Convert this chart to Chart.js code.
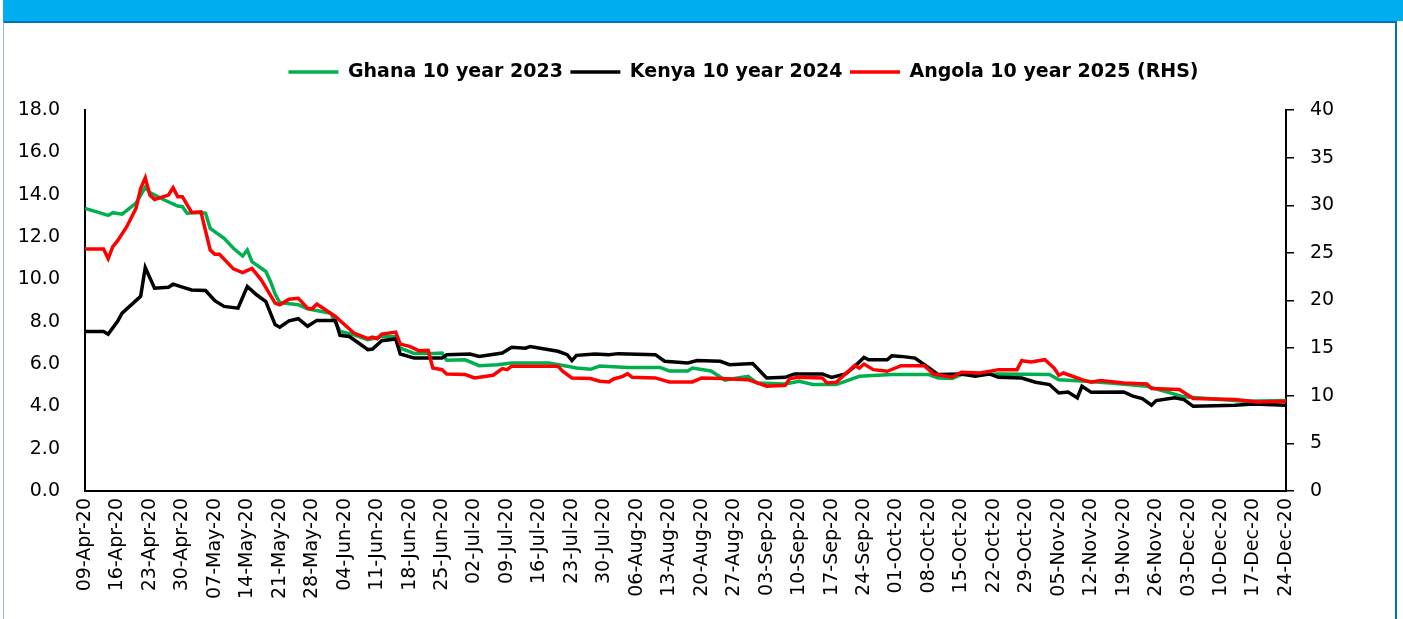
<!DOCTYPE html>
<html>
<head>
<meta charset="utf-8">
<title>Eurobond yields</title>
<script src="https://cdn.jsdelivr.net/npm/chart.js@4"></script>
<style>
  html, body { margin: 0; padding: 0; background: #fff; overflow: hidden; }
  #header { position: absolute; left: 3px; top: 0; width: 1400px; height: 21px; background: #00AEEF; }
  #frame { position: absolute; left: 3px; top: 21px; width: 1391px; height: 610px;
           border-top: 2px solid #0070C0; border-left: 1px solid #8FB8E0; border-right: 2px solid #0070C0; }
  #wrap { position: absolute; left: 4px; top: 23px; width: 1391px; height: 596px; }
</style>
</head>
<body>
<div id="header"></div>
<div id="frame"></div>
<div id="wrap"><canvas id="yieldChart"></canvas></div>
<script>
// weekly tick labels, one every 7 days starting 09-Apr-20
const dateLabels = ['09-Apr-20', '16-Apr-20', '23-Apr-20', '30-Apr-20', '07-May-20', '14-May-20',
    '21-May-20', '28-May-20', '04-Jun-20', '11-Jun-20', '18-Jun-20', '25-Jun-20', '02-Jul-20',
    '09-Jul-20', '16-Jul-20', '23-Jul-20', '30-Jul-20', '06-Aug-20', '13-Aug-20', '20-Aug-20',
    '27-Aug-20', '03-Sep-20', '10-Sep-20', '17-Sep-20', '24-Sep-20', '01-Oct-20', '08-Oct-20',
    '15-Oct-20', '22-Oct-20', '29-Oct-20', '05-Nov-20', '12-Nov-20', '19-Nov-20', '26-Nov-20',
    '03-Dec-20', '10-Dec-20', '17-Dec-20', '24-Dec-20'];

// days since 09-Apr-20 and yields (%)
const ghanaDays = [0, 2, 5, 6, 8, 11, 13, 14, 17, 20, 21, 22, 25, 26, 27, 30, 32, 34, 35, 36, 39, 40, 41, 42, 46,
    48, 53, 55, 58, 61, 64, 67, 68, 71, 75, 77, 78, 82, 85, 89, 92, 100, 104, 106, 109, 111, 117, 124, 126, 130,
    131, 135, 138, 143, 145, 151, 154, 157, 162, 167, 174, 182, 184, 187, 189, 197, 208, 210, 216, 221, 229, 237, 250, 259];
const ghana = [13.35, 13.22, 13.02, 13.15, 13.08, 13.6, 14.35, 14.1, 13.76, 13.46, 13.43, 13.12, 13.16, 13.12, 12.41,
    11.94, 11.47, 11.1, 11.39, 10.84, 10.37, 9.9, 9.3, 8.9, 8.8, 8.61, 8.4, 7.54, 7.38, 7.15, 7.3, 7.3, 6.75, 6.5, 6.5,
    6.52, 6.18, 6.2, 5.92, 5.97, 6.05, 6.05, 5.89, 5.81, 5.75, 5.9, 5.84, 5.84, 5.67, 5.67, 5.81, 5.67, 5.24, 5.42, 5.1,
    5.06, 5.18, 5.03, 5.03, 5.42, 5.5, 5.5, 5.34, 5.31, 5.5, 5.53, 5.5, 5.26, 5.18, 5.1, 4.95, 4.45, 4.24, 4.27];

const kenyaDays = [0, 4, 5, 7, 8, 12, 13, 15, 18, 19, 21, 23, 26, 28, 30, 33, 35, 37, 39, 41, 42, 44, 46, 48, 50,
    54, 55, 57, 59, 61, 62, 64, 67, 68, 71, 77, 78, 83, 85, 90, 92, 95, 96, 102, 104, 105, 106, 110, 113, 115,
    123, 125, 130, 132, 137, 139, 144, 147, 151, 153, 159, 161, 164, 166, 168, 169, 173, 174, 176, 179, 182, 184,
    189, 192, 195, 197, 202, 205, 208, 210, 212, 214, 215, 217, 224, 226, 228, 230, 231, 235, 237, 239, 248, 252, 259];
const kenya = [7.54, 7.54, 7.41, 8.0, 8.4, 9.2, 10.56, 9.58, 9.63, 9.77, 9.63, 9.5, 9.47, 8.99, 8.72, 8.64, 9.66,
    9.27, 8.95, 7.86, 7.74, 8.04, 8.14, 7.78, 8.06, 8.06, 7.35, 7.3, 6.99, 6.68, 6.71, 7.1, 7.18, 6.47, 6.28, 6.28,
    6.44, 6.47, 6.36, 6.52, 6.79, 6.75, 6.83, 6.6, 6.44, 6.16, 6.41, 6.47, 6.44, 6.49, 6.44, 6.13, 6.05, 6.16, 6.13,
    5.97, 6.02, 5.34, 5.37, 5.53, 5.53, 5.37, 5.53, 5.89, 6.31, 6.2, 6.2, 6.39, 6.36, 6.28, 5.81, 5.5, 5.53, 5.42,
    5.53, 5.37, 5.34, 5.14, 5.03, 4.63, 4.68, 4.4, 4.95, 4.66, 4.68, 4.48, 4.37, 4.05, 4.27, 4.4, 4.32, 4.0, 4.05, 4.11, 4.05];

const angolaDays = [0, 4, 5, 6, 7, 9, 11, 12, 13, 14, 15, 18, 19, 20, 21, 23, 25, 27, 28, 29, 32, 34, 36, 38, 41,
    42, 44, 46, 48, 49, 50, 54, 56, 58, 61, 62, 63, 64, 67, 68, 70, 72, 74, 75, 77, 78, 82, 84, 88, 90, 91, 92, 102,
    103, 105, 109, 111, 113, 114, 116, 117, 118, 123, 126, 131, 133, 137, 143, 147, 151, 152, 154, 159, 160, 162,
    166, 167, 168, 170, 173, 176, 181, 183, 187, 189, 193, 197, 201, 202, 204, 207, 209, 210, 211, 215, 217, 219,
    224, 229, 230, 236, 239, 248, 253, 259];
const angola = [25.4, 25.4, 24.4, 25.65, 26.25, 27.75, 29.67, 31.76, 32.88, 31.07, 30.6, 31.07, 31.83, 30.9, 30.9,
    29.25, 29.32, 25.3, 24.85, 24.85, 23.32, 22.93, 23.38, 22.17, 19.72, 19.55, 20.14, 20.24, 19.2, 19.13, 19.62,
    18.32, 17.45, 16.58, 15.99, 16.16, 15.99, 16.47, 16.68, 15.42, 15.18, 14.73, 14.76, 12.91, 12.74, 12.28, 12.22,
    11.87, 12.15, 12.85, 12.74, 13.09, 13.09, 12.57, 11.87, 11.8, 11.52, 11.45, 11.76, 12.04, 12.32, 11.94, 11.87,
    11.45, 11.45, 11.87, 11.8, 11.69, 11.0, 11.1, 11.8, 11.94, 11.87, 11.34, 11.41, 13.19, 12.91, 13.33, 12.74,
    12.57, 13.16, 13.16, 12.28, 11.94, 12.46, 12.39, 12.74, 12.74, 13.68, 13.54, 13.79, 12.91, 12.15, 12.39, 11.69,
    11.41, 11.59, 11.34, 11.24, 10.75, 10.65, 9.71, 9.6, 9.35, 9.42];

function pairs(days, values) {
    return days.map((d, i) => ({ x: d, y: values[i] }));
}

Chart.defaults.font.family = "'DejaVu Sans', Verdana, sans-serif";
Chart.defaults.font.size = 19;
Chart.defaults.color = '#000';

// fixed legend height and horizontal offset, like the manually placed Excel legend
const legendPlace = {
    id: 'legendPlace',
    beforeInit(chart) {
        const legend = chart.legend;
        const fit = legend.fit;
        legend.fit = function () {
            fit.call(this);
            this.height = 55;
        };
    },
    afterLayout(chart) {
        chart.legend.left += 44;
        chart.legend.right += 44;
    }
};

new Chart(document.getElementById('yieldChart'), {
    type: 'line',
    data: {
        datasets: [{
            label: 'Ghana 10 year 2023',
            data: pairs(ghanaDays, ghana),
            borderColor: '#00B050',
            backgroundColor: '#00B050',
            borderWidth: 3.5,
            yAxisID: 'y',
            order: 3
        }, {
            label: 'Kenya 10 year 2024',
            data: pairs(kenyaDays, kenya),
            borderColor: '#000000',
            backgroundColor: '#000000',
            borderWidth: 3.5,
            yAxisID: 'y',
            order: 2
        }, {
            label: 'Angola 10 year 2025 (RHS)',
            data: pairs(angolaDays, angola),
            borderColor: '#FF0000',
            backgroundColor: '#FF0000',
            borderWidth: 3.5,
            yAxisID: 'y1',
            order: 1
        }]
    },
    options: {
        responsive: true,
        maintainAspectRatio: false,
        animation: false,
        layout: { padding: { top: 32, left: 0, right: 0, bottom: 0 } },
        elements: {
            point: { radius: 0 },
            line: { tension: 0 }
        },
        scales: {
            x: {
                type: 'linear',
                min: 0,
                max: 259,
                grid: { display: false, drawTicks: false },
                border: { color: '#000', width: 2 },
                ticks: {
                    stepSize: 7,
                    maxTicksLimit: 40,
                    autoSkip: false,
                    minRotation: 90,
                    maxRotation: 90,
                    padding: 7,
                    callback: (v) => dateLabels[Math.round(v / 7)]
                },
                afterFit: (s) => { s.height = 128; }
            },
            y: {
                position: 'left',
                min: 0,
                max: 18,
                grid: { display: false, drawTicks: false },
                border: { color: '#000', width: 2 },
                ticks: {
                    stepSize: 2,
                    padding: 25,
                    callback: (v) => v.toFixed(1)
                },
                afterFit: (s) => { s.width = 81; }
            },
            y1: {
                position: 'right',
                min: 0,
                max: 40,
                grid: { display: true, drawOnChartArea: false, drawTicks: true, tickLength: 8, color: '#000', lineWidth: 1.5 },
                border: { color: '#000', width: 2 },
                ticks: {
                    stepSize: 5,
                    padding: 16
                },
                afterFit: (s) => { s.width = 109; }
            }
        },
        plugins: {
            legend: {
                position: 'top',
                labels: {
                    usePointStyle: true,
                    pointStyle: 'line',
                    pointStyleWidth: 50,
                    padding: 7.5,
                    font: { size: 19, weight: 'bold' },
                    sort: (a, b) => a.datasetIndex - b.datasetIndex
                }
            },
            tooltip: { enabled: false }
        }
    },
    plugins: [legendPlace]
});
</script>
</body>
</html>
